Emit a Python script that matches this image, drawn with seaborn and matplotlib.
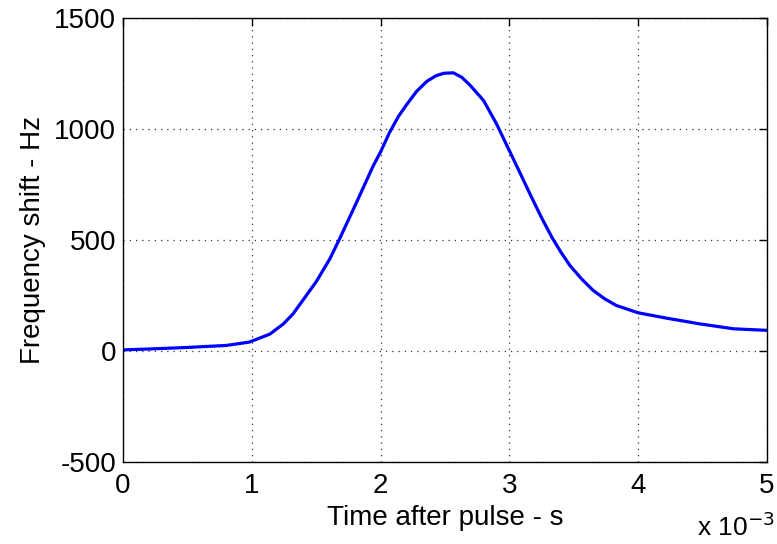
import matplotlib
matplotlib.use("Agg")
import matplotlib.pyplot as plt
import seaborn as sns
import pandas as pd
from matplotlib.ticker import FuncFormatter

# Data (time in seconds, frequency shift in Hz)
time_s = [0.0, 0.0002, 0.0005, 0.0008, 0.00098, 0.00114, 0.001245, 0.00132, 0.0015,
          0.001605, 0.001683, 0.001812, 0.001942, 0.0020, 0.00207, 0.00214, 0.0022,
          0.00228, 0.00236, 0.00243, 0.00249, 0.002565, 0.00263, 0.002695, 0.0028,
          0.0029, 0.0030, 0.00308, 0.00316, 0.00325, 0.00333, 0.0034, 0.00347,
          0.00356, 0.00365, 0.00374, 0.00383, 0.0040, 0.00422, 0.00448, 0.00474,
          0.0050]
shift_hz = [5, 9, 16, 25, 40, 76, 122, 167, 312,
            414, 507, 668, 833, 897, 985, 1058, 1108,
            1170, 1215, 1240, 1251, 1253, 1233, 1197, 1128,
            1023, 902, 805, 707, 600, 512, 445, 385,
            325, 273, 235, 205, 172, 148, 122, 100,
            93]
x_ticks = [0, 0.001, 0.002, 0.003, 0.004, 0.005]
y_ticks = [-500, 0, 500, 1000, 1500]

df = pd.DataFrame({"t": time_s, "f": shift_hz})

sns.set_style("white")
plt.rcParams["font.family"] = ["Liberation Sans", "DejaVu Sans"]

fig = plt.figure(figsize=(7.77, 5.44), dpi=100)
ax = fig.add_axes([123/777, 1-462/544, (767-123)/777, (462-18)/544])

sns.lineplot(data=df, x="t", y="f", ax=ax, color="#0000ff", linewidth=2.3)

ax.set_xlim(0, 0.005)
ax.set_ylim(-500, 1500)
ax.set_xticks(x_ticks)
ax.set_yticks(y_ticks)
ax.xaxis.set_major_formatter(FuncFormatter(lambda v, p: f"{v*1e3:g}"))
ax.yaxis.set_major_formatter(FuncFormatter(lambda v, p: f"{v:g}"))

ax.grid(True, linestyle=(0, (1, 4)), color="black", linewidth=0.9, alpha=0.8)
for s in ax.spines.values():
    s.set_visible(True)
    s.set_color("black")
    s.set_linewidth(1.0)
ax.tick_params(direction="in", length=6, width=1, top=True, right=True,
               labelsize=20, colors="black")
ax.tick_params(axis="x", pad=8)
ax.tick_params(axis="y", pad=5)
for lab in ax.get_xticklabels() + ax.get_yticklabels():
    lab.set_color("black")

ax.set_xlabel("Time after pulse - s", fontsize=20, color="black", labelpad=4)
ax.set_ylabel("Frequency shift - Hz", fontsize=20, color="black", labelpad=6)

fig.text(697/777, 1-536/544, r"x 10$^{-3}$", fontsize=19, color="black",
         ha="left", va="baseline")

fig.savefig("out.png", dpi=100)
